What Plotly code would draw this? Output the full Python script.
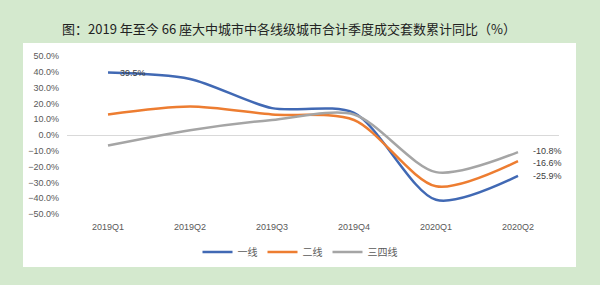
import plotly.graph_objects as go

categories = ["2019Q1", "2019Q2", "2019Q3", "2019Q4", "2020Q1", "2020Q2"]
tier1 = [39.5, 35.5, 17.0, 14.0, -41.0, -25.9]
tier2 = [13.0, 18.0, 13.0, 9.5, -32.5, -16.6]
tier34 = [-6.7, 3.0, 9.5, 13.0, -23.5, -10.8]
series_names = ["一线", "二线", "三四线"]
colors = ["#4169b4", "#ed7d31", "#a5a5a5"]

L, R, T, B = 67, 41, 56, 71
W, H = 600, 285
pw, ph = W - L - R, H - T - B

def px_x(x):
    return (x - L) / pw

def px_y(y):
    return (H - B - y) / ph

fig = go.Figure()
label_idx = [{0: (10, 0), 5: (13, 0)}, {5: (13, -1.5)}, {5: (13, 1.5)}]
for name, vals, col, lbl in zip(series_names, [tier1, tier2, tier34], colors, label_idx):
    fig.add_trace(go.Scatter(
        x=categories, y=vals, name=name, mode="lines",
        line=dict(color=col, width=2.5, shape="spline", smoothing=0.8),
        cliponaxis=False,
    ))
    for i, (xs, ys) in lbl.items():
        fig.add_annotation(
            x=categories[i], y=vals[i], text=f"{vals[i]:.1f}%",
            showarrow=False, xanchor="left", yanchor="middle", xshift=xs, yshift=ys,
            font=dict(size=9, color="#404040", family="Liberation Sans, Arial, sans-serif"),
        )

fig.add_shape(type="rect", xref="paper", yref="paper",
              x0=px_x(23), x1=px_x(576), y0=px_y(267), y1=px_y(43),
              fillcolor="white", line=dict(width=0), layer="below")

fig.update_layout(
    width=W, height=H,
    margin=dict(l=L, r=R, t=T, b=B),
    paper_bgcolor="#d4e9ce",
    plot_bgcolor="rgba(0,0,0,0)",
    font=dict(family="Liberation Sans, Arial, sans-serif", color="#595959"),
    title=dict(
        text="图：2019 年至今 66 座大中城市中各线级城市合计季度成交套数累计同比（%）",
        x=px_x(289), xref="paper", xanchor="center",
        y=1 - 29 / H, yanchor="middle",
        font=dict(size=13, color="#222222", family="Noto Sans CJK SC"),
    ),
    xaxis=dict(
        type="category", range=[-0.5, 5.5], showgrid=False, showline=False,
        ticks="", tickfont=dict(size=9, color="#595959"), ticklabelstandoff=6,
    ),
    yaxis=dict(
        range=[-50, 50], dtick=10, tickformat=".1f", ticksuffix="%",
        showgrid=False, zeroline=True, zerolinecolor="#d9d9d9", zerolinewidth=1,
        showline=False, ticks="", tickfont=dict(size=9, color="#595959"),
        ticklabelstandoff=7,
    ),
    legend=dict(
        orientation="h", x=px_x(300), xanchor="center", y=px_y(252), yanchor="middle",
        font=dict(size=10, color="#595959", family="Noto Sans CJK SC"),
        bgcolor="rgba(0,0,0,0)", itemwidth=30, tracegroupgap=0,
    ),
    showlegend=True,
)

fig.write_html("out.html")
